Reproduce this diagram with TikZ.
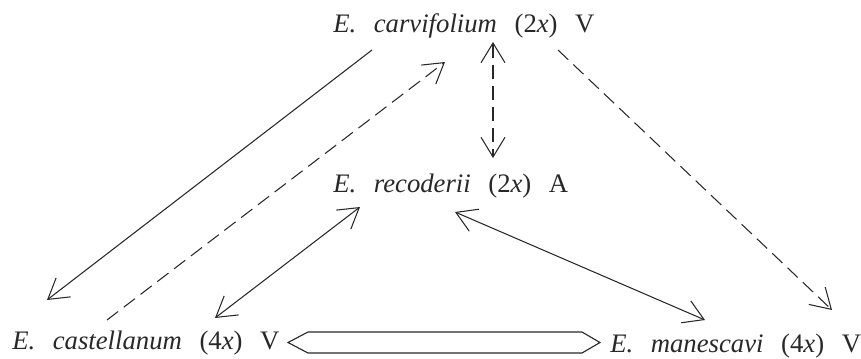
\documentclass[tikz,border=0pt]{standalone}
\usepackage{fontspec}
\setmainfont{Liberation Serif}
\usepackage{tikz}
\usetikzlibrary{arrows.meta,calc}
\definecolor{ink}{RGB}{40,40,40}
\tikzset{
  taxon/.style={inner sep=0pt, anchor=base west, text=ink,
                font=\fontsize{19}{22}\selectfont,
                execute at begin node={\spaceskip=12.5pt\relax}},
  link/.style={draw=ink, line width=0.75pt},
  dashlink/.style={link, dash pattern=on 10pt off 5pt},
  fatlink/.style={draw=ink, line width=0.8pt, line join=miter}
}

\begin{document}
\begin{tikzpicture}[x=0.025cm, y=-0.025cm,
  >={Straight Barb[length=14pt,width=17pt]}]
\useasboundingbox (0,0) rectangle (861,358);

% --- Taxa ---
\node[taxon] (carv) at (333,32) {\textit{E. carvifolium} (2\textit{x}) V};
\node[taxon] (reco) at (333,192) {\textit{E. recoderii} (2\textit{x}) A};
\node[taxon] (cast) at (12,349) {\textit{E. castellanum} (4\textit{x}) V};
\node[taxon] (manes) at (610,352) {\textit{E. manescavi} (4\textit{x}) V};

% --- Arrows ---
\draw[link, ->] ($(carv.base west)+(39,18)$) -- ($(cast.base west)+(35,-49)$);
\draw[dashlink, ->] ($(cast.base west)+(95,-29)$) -- ($(carv.base west)+(112,30)$);
\draw[dashlink, <->] ($(carv.base west)+(160,10)$) -- ($(reco.base west)+(160,-34)$);
\draw[dashlink, ->] ($(carv.base west)+(225,18)$) -- ($(manes.base west)+(222,-42)$);
\draw[link, <->] ($(reco.base west)+(27,15)$) -- ($(cast.base west)+(203,-31)$);
\draw[link, <->] ($(reco.base west)+(122,20)$) -- ($(manes.base west)+(95,-32)$);

% --- Hybrid link ---
\coordinate (hexL) at ($(cast.base west)+(276,-6.5)$);
\coordinate (hexR) at ($(manes.base west)+(-10,-9.5)$);
\draw[fatlink] (hexL) -- ($(hexL)+(20,-10.5)$) -- ($(hexR)+(-18,-10.5)$)
  -- (hexR) -- ($(hexR)+(-18,10.5)$) -- ($(hexL)+(20,10.5)$) -- cycle;

\end{tikzpicture}
\end{document}
